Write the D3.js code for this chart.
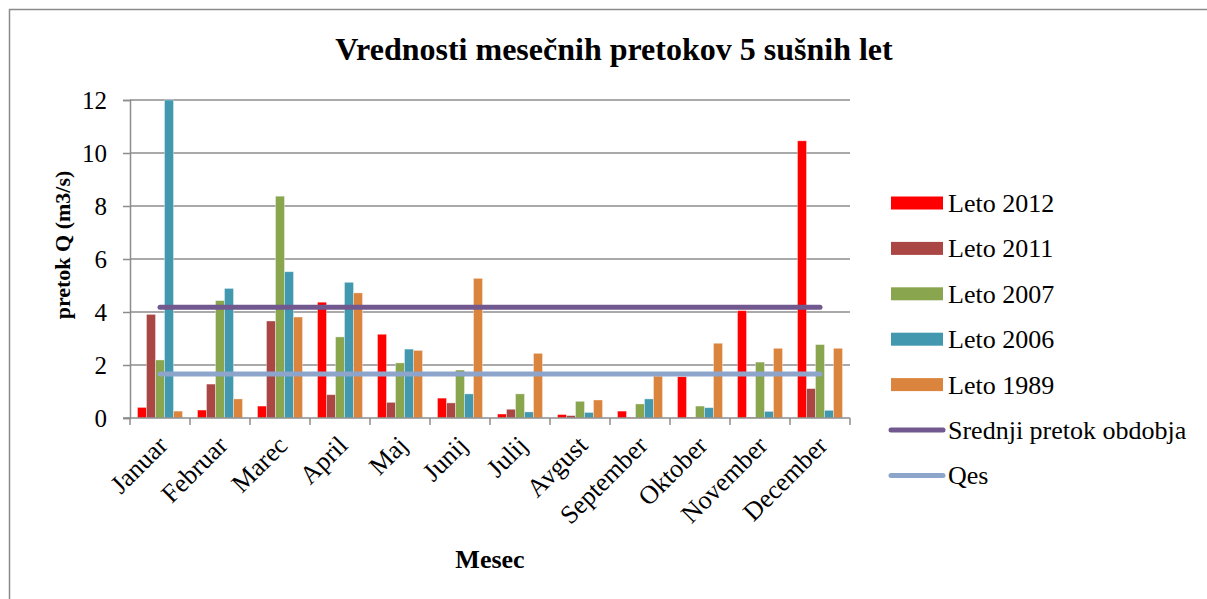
<!DOCTYPE html>
<html><head><meta charset="utf-8">
<script src="https://cdn.jsdelivr.net/npm/d3@7"></script>
<style>
body{margin:0;background:#fff;}
</style></head>
<body>
<svg id="chart" width="1207" height="599" font-family="'Liberation Serif', 'Times New Roman', serif"></svg>
<script>
const months = ["Januar","Februar","Marec","April","Maj","Junij","Julij","Avgust","September","Oktober","November","December"];
const leto2012 = [0.40,0.30,0.45,4.37,3.16,0.75,0.15,0.13,0.26,1.56,4.05,10.46];
const leto2011 = [3.91,1.28,3.66,0.88,0.59,0.57,0.33,0.09,0.02,0.03,0.03,1.11];
const leto2007 = [2.19,4.43,8.37,3.06,2.08,1.81,0.91,0.63,0.53,0.45,2.11,2.77];
const leto2006 = [12.0,4.89,5.52,5.12,2.60,0.91,0.23,0.21,0.72,0.39,0.25,0.29];
const leto1989 = [0.26,0.72,3.81,4.72,2.55,5.27,2.44,0.68,1.58,2.82,2.63,2.63];
const srednjiPretok = [4.18,4.18,4.18,4.18,4.18,4.18,4.18,4.18,4.18,4.18,4.18,4.18];
const qes = [1.66,1.66,1.66,1.66,1.66,1.66,1.66,1.66,1.66,1.66,1.66,1.66];
const yTicks = [0,2,4,6,8,10,12];

const barSeries = [
  {name:"Leto 2012", values:leto2012, color:"#FF0000"},
  {name:"Leto 2011", values:leto2011, color:"#AA4643"},
  {name:"Leto 2007", values:leto2007, color:"#89A54E"},
  {name:"Leto 2006", values:leto2006, color:"#4198AF"},
  {name:"Leto 1989", values:leto1989, color:"#DB843D"}
];
const lineSeries = [
  {name:"Srednji pretok obdobja", values:srednjiPretok, color:"#71588F"},
  {name:"Qes", values:qes, color:"#8EA5CB"}
];
const FONT = "'Liberation Serif', 'Times New Roman', serif";

const svg = d3.select("#chart");
svg.append("rect").attr("x",9.5).attr("y",9.5).attr("width",1210).attr("height",600)
  .attr("fill","none").attr("stroke","#8a8a8a").attr("stroke-width",1.5);

const pLeft=130, pRight=850, pTop=100, pBottom=418;
const x = d3.scaleBand().domain(months).range([pLeft,pRight]).paddingInner(0.25).paddingOuter(0.125);
const xCat = d3.scaleBand().domain(months).range([pLeft,pRight]);
const xs = d3.scaleBand().domain(barSeries.map(s=>s.name)).range([0,x.bandwidth()]);
const y = d3.scaleLinear().domain([0,12]).range([pBottom,pTop]);

svg.append("g").selectAll("line").data(yTicks.filter(t=>t>0)).join("line")
  .attr("x1",pLeft).attr("x2",pRight).attr("y1",d=>y(d)).attr("y2",d=>y(d))
  .attr("stroke","#8c8c8c").attr("stroke-width",1.5);

const yAxis = svg.append("g").attr("transform",`translate(${pLeft},0)`)
  .call(d3.axisLeft(y).tickValues(yTicks).tickSize(7).tickPadding(16).tickFormat(d3.format("d")));
yAxis.attr("font-family",FONT).attr("font-size",25);
yAxis.select(".domain").attr("stroke","#8c8c8c").attr("stroke-width",1.5);
yAxis.selectAll(".tick line").attr("stroke","#8c8c8c").attr("stroke-width",1.5);
yAxis.selectAll("text").attr("font-family",FONT).attr("font-size",25).attr("fill","#000").attr("dy","0.35em");

const gBars = svg.append("g");
barSeries.forEach(s=>{
  gBars.append("g").selectAll("rect").data(s.values).join("rect")
    .attr("x",(d,i)=>x(months[i])+xs(s.name))
    .attr("width",xs.bandwidth())
    .attr("y",d=>y(d)).attr("height",d=>y(0)-y(d))
    .attr("fill",s.color)
    .attr("stroke","rgba(255,255,255,0.45)").attr("stroke-width",0.8);
});

svg.append("line").attr("x1",pLeft-7).attr("x2",pRight).attr("y1",pBottom).attr("y2",pBottom)
  .attr("stroke","#8c8c8c").attr("stroke-width",1.5);
const bounds = months.map(m=>xCat(m)).concat([pRight]);
svg.append("g").selectAll("line").data(bounds).join("line")
  .attr("x1",d=>d).attr("x2",d=>d).attr("y1",pBottom).attr("y2",pBottom+7)
  .attr("stroke","#8c8c8c").attr("stroke-width",1.5);
svg.append("g").selectAll("text").data(months).join("text")
  .attr("transform",d=>`translate(${xCat(d)+xCat.bandwidth()/2+9},${pBottom+29}) rotate(-45)`)
  .attr("text-anchor","end").attr("font-family",FONT).attr("font-size",26).text(d=>d);

const line = d3.line().x((d,i)=>xCat(months[i])+xCat.bandwidth()/2).y(d=>y(d));
lineSeries.forEach(s=>{
  svg.append("path").datum(s.values).attr("d",line).attr("fill","none")
    .attr("stroke",s.color).attr("stroke-width",5).attr("stroke-linecap","round");
});

svg.append("text").attr("x",614).attr("y",60).attr("text-anchor","middle").attr("font-family",FONT)
  .attr("font-size",32).attr("font-weight","bold").text("Vrednosti mesečnih pretokov 5 sušnih let");
svg.append("text").attr("transform","translate(70,245) rotate(-90)").attr("text-anchor","middle").attr("font-family",FONT)
  .attr("font-size",22).attr("font-weight","bold").text("pretok Q (m3/s)");
svg.append("text").attr("x",490).attr("y",568).attr("text-anchor","middle").attr("font-family",FONT)
  .attr("font-size",26).attr("font-weight","bold").text("Mesec");

const legendItems = barSeries.map(s=>({...s,type:"bar"})).concat(lineSeries.map(s=>({...s,type:"line"})));
const lg = svg.append("g");
legendItems.forEach((s,i)=>{
  const cy = 203 + i*45.4;
  if(s.type==="bar"){
    lg.append("rect").attr("x",891).attr("y",cy-6.5).attr("width",52).attr("height",13).attr("fill",s.color);
  } else {
    lg.append("line").attr("x1",891).attr("x2",943).attr("y1",cy).attr("y2",cy)
      .attr("stroke",s.color).attr("stroke-width",5).attr("stroke-linecap","round");
  }
  lg.append("text").attr("x",948).attr("y",cy+9).attr("font-family",FONT).attr("font-size",26).text(s.name);
});
</script>
</body></html>
